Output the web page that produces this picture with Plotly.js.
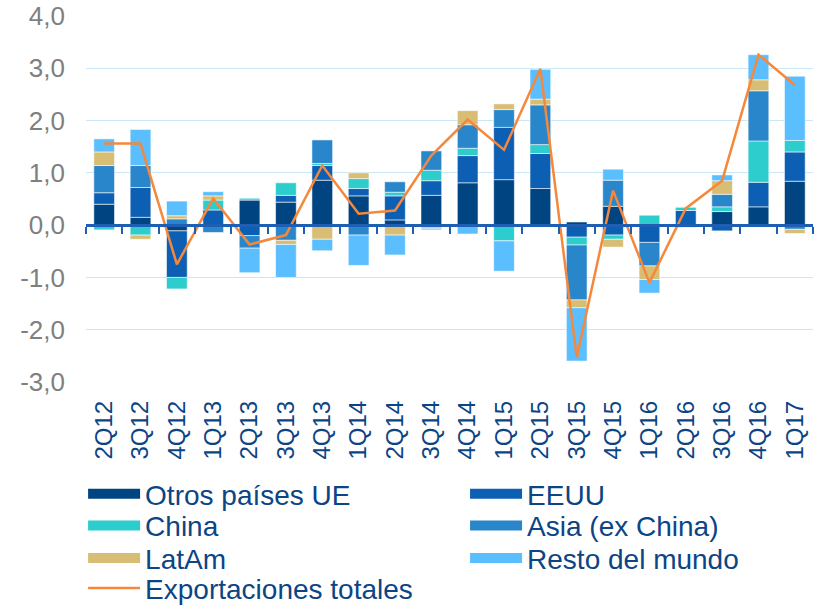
<!DOCTYPE html>
<html><head><meta charset="utf-8">
<script src="https://cdn.plot.ly/plotly-3.0.1.min.js"></script>
<style>html,body{margin:0;padding:0;background:#fff}#chart{width:818px;height:606px}</style>
</head><body><div id="chart"></div>
<script>
const quarters = ["2Q12","3Q12","4Q12","1Q13","2Q13","3Q13","4Q13","1Q14","2Q14","3Q14","4Q14","1Q15","2Q15","3Q15","4Q15","1Q16","2Q16","3Q16","4Q16","1Q17"];
const otrosUE = [0.40,0.15,-0.11,0.00,0.48,0.44,0.86,0.56,0.10,0.57,0.81,0.87,0.70,0.06,0.36,0.00,0.00,0.26,0.35,0.84];
const eeuu    = [0.22,0.57,-0.89,0.29,-0.20,0.13,0.28,0.14,0.46,0.28,0.52,1.00,0.67,-0.23,-0.19,-0.33,0.28,-0.11,0.47,0.56];
const china   = [-0.09,-0.19,-0.22,0.19,0.04,0.24,0.04,0.19,0.07,0.20,0.14,-0.30,0.17,-0.15,-0.08,0.19,0.07,0.09,0.79,0.22];
const asia    = [0.52,0.42,0.12,-0.14,-0.24,-0.29,0.45,-0.19,0.20,0.37,0.45,0.34,0.76,-1.05,0.50,-0.45,-0.04,0.24,0.96,-0.08];
const latam   = [0.26,-0.08,0.06,0.08,0.00,-0.08,-0.27,0.11,-0.19,-0.06,0.27,0.11,0.11,-0.15,-0.15,-0.26,0.00,0.26,0.21,-0.08];
const resto   = [0.25,0.69,0.28,0.08,-0.47,-0.63,-0.22,-0.58,-0.38,-0.03,-0.17,-0.58,0.57,-1.02,0.21,-0.26,0.00,0.11,0.48,1.23];
const total   = [1.56,1.56,-0.75,0.51,-0.37,-0.19,1.14,0.22,0.28,1.33,2.02,1.44,2.99,-2.53,0.66,-1.10,0.32,0.85,3.26,2.68];
const yTickVals = [-3,-2,-1,0,1,2,3,4];
const yTickText = ["-3,0","-2,0","-1,0","0,0","1,0","2,0","3,0","4,0"];

const series = [
  {name:"Otros países UE", y: otrosUE, color:"#004481", legend:"legend"},
  {name:"EEUU", y: eeuu, color:"#0c5fb3", legend:"legend2"},
  {name:"China", y: china, color:"#2dcccd", legend:"legend3"},
  {name:"Asia (ex China)", y: asia, color:"#2a86ca", legend:"legend4"},
  {name:"LatAm", y: latam, color:"#d8be75", legend:"legend5"},
  {name:"Resto del mundo", y: resto, color:"#5bbeff", legend:"legend6"}
];
const FONT = "Liberation Sans, Arial, sans-serif";
const TXT = "#0b4584";
const traces = [];
series.forEach(s => {
  traces.push({type:"bar", name:s.name, x:quarters, y:s.y, showlegend:false,
    marker:{color:s.color, line:{color:"rgba(255,255,255,0.55)", width:1}}, hoverinfo:"x+y+name"});
});
series.forEach(s => {
  traces.push({type:"scatter", mode:"lines", name:s.name, x:quarters, y:quarters.map(()=>null),
    line:{color:s.color, width:13}, legend:s.legend, hoverinfo:"skip"});
});
traces.push({type:"scatter", mode:"lines", name:"Exportaciones totales", x:quarters, y:total,
  xaxis:"x2", yaxis:"y", line:{color:"#f5883a", width:2.5}, legend:"legend7"});

function leg(x, y){
  return {orientation:"h", x:x, xanchor:"left", y:y, yanchor:"middle",
    font:{size:28, color:TXT, family:FONT}, itemwidth:52,
    bgcolor:"rgba(0,0,0,0)", traceorder:"normal"};
}
const C1 = -0.004, C2 = 0.5214;
const R1 = -0.306, R2 = -0.393, R3 = -0.482, R4 = -0.564;
const layout = {
  width:818, height:606, margin:{l:86, r:5, t:16, b:224, autoexpand:false},
  paper_bgcolor:"#fff", plot_bgcolor:"#fff",
  barmode:"relative", bargap:0.43,
  font:{family:FONT},
  xaxis:{type:"category", range:[-0.5,19.5], showgrid:false, zeroline:false, showline:false,
    ticks:"", tickangle:-90, tickfont:{size:24, color:TXT, family:FONT}, ticklabelstandoff:13},
  xaxis2:{type:"category", overlaying:"x", anchor:"free", position:3/7, range:[-0.5,19.5],
    showgrid:false, zeroline:false, showline:true, linecolor:"#1f5fb3", linewidth:2.5,
    ticks:"outside", tickson:"boundaries", ticklen:7, tickwidth:2, tickcolor:"#1f5fb3",
    showticklabels:false, side:"bottom"},
  yaxis:{range:[-3,4], tickvals:yTickVals, ticktext:yTickText, showgrid:true, gridcolor:"#c9e7f7",
    gridwidth:1, zeroline:false, showline:false, ticks:"", tickfont:{size:26, color:"#7f7f7f", family:FONT},
    ticklabelstandoff:20},
  legend:leg(C1,R1), legend2:leg(C2,R1), legend3:leg(C1,R2), legend4:leg(C2,R2),
  legend5:leg(C1,R3), legend6:leg(C2,R3), legend7:leg(C1,R4),
  showlegend:true
};
Plotly.newPlot("chart", traces, layout, {displayModeBar:false, staticPlot:true});
</script></body></html>
